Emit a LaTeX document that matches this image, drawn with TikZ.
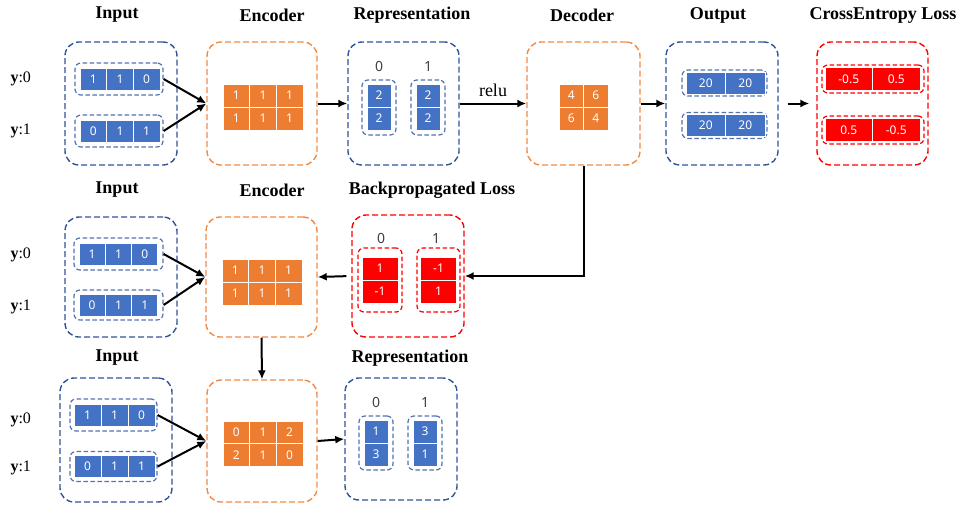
\documentclass[tikz,border=0pt]{standalone}
\usepackage{fontspec}
\setmainfont{Liberation Serif}
\newfontfamily\cellfont{Noto Sans}
\usetikzlibrary{arrows.meta}
\definecolor{cblue}{HTML}{4472C4}
\definecolor{corange}{HTML}{ED7D31}
\definecolor{cred}{HTML}{FF0000}
\definecolor{dblue}{HTML}{2F5597}
\definecolor{iblue}{HTML}{5273B0}
\definecolor{dorange}{HTML}{F08A45}
\definecolor{lgray}{HTML}{404040}
\newcommand{\mygrid}[7]{%
  \foreach \rw [count=\r] in {#7} {
    \foreach \v [count=\c] in \rw {
      \node[cell, fill=#6, minimum width=#4pt, minimum height=#5pt] (#1-\r-\c) at ({#2+(\c-0.5)*#4},{#3+(\r-0.5)*#5}) {\v};
    }}}
\begin{document}
\begin{tikzpicture}[x=1pt,y=-1pt,
  outer/.style={draw, dash pattern=on 6pt off 3pt, line width=1.4pt, rounded corners=14pt, inner sep=0pt},
  bluebox/.style={outer, draw=dblue},
  orangebox/.style={outer, draw=dorange},
  redbox/.style={outer, draw=cred},
  inner/.style={draw, dash pattern=on 4.5pt off 2.5pt, line width=1.2pt, rounded corners=6pt, inner sep=0pt},
  iblue/.style={inner, draw=iblue},
  ired/.style={inner, draw=cred},
  cell/.style={draw=white, line width=1pt, inner sep=0pt, text=white, font=\cellfont\fontsize{12}{12}\selectfont},
  title/.style={font=\bfseries\fontsize{18}{20}\selectfont},
  ylab/.style={anchor=west, font=\fontsize{16}{18}\selectfont},
  clab/.style={text=lgray, font=\cellfont\fontsize{14}{14}\selectfont},
  arr/.style={-{Latex[length=9pt,width=8pt]}, line width=2pt}
]
\useasboundingbox (0,0) rectangle (961,504);

% ---------------- top row ----------------
\node[title] (t1) at (117,15) {Input};
\node[title] (t2) at (272,15) {Encoder};
\node[title] (t3) at (412,15) {Representation};
\node[title] (t4) at (582,15) {Decoder};
\node[title] (t5) at (718,15) {Output};
\node[title] (t6) at (883,15) {CrossEntropy Loss};

\node[ylab] (ya0) at (7,79) {\textbf{y}:0};
\node[ylab] (ya1) at (7,131) {\textbf{y}:1};

\node[bluebox, minimum width=112pt, minimum height=123pt] (in1) at (121,103.5) {};
\node[iblue, minimum width=88pt, minimum height=32pt] (in1a) at (119,79) {};
\node[iblue, minimum width=88pt, minimum height=32pt] (in1b) at (119,131) {};
\mygrid{ia}{80}{68}{26.67}{22}{cblue}{{1,1,0}}
\mygrid{ib}{80}{120}{26.67}{22}{cblue}{{0,1,1}}

\node[orangebox, minimum width=110pt, minimum height=123pt] (enc1) at (262,103.5) {};
\mygrid{ea}{223}{84}{26.67}{23}{corange}{{1,1,1},{1,1,1}}

\node[bluebox, minimum width=111pt, minimum height=123pt] (rep1) at (403.5,103.5) {};
\node[clab] (r1l0) at (379,66) {0};
\node[clab] (r1l1) at (428,66) {1};
\node[iblue, minimum width=34pt, minimum height=55pt] (rep1a) at (379,107.5) {};
\node[iblue, minimum width=34pt, minimum height=55pt] (rep1b) at (428,107.5) {};
\mygrid{ra}{367}{84}{24}{23}{cblue}{{2},{2}}
\mygrid{rb}{416}{84}{24}{23}{cblue}{{2},{2}}

\node[orangebox, minimum width=113pt, minimum height=123pt] (dec) at (583.5,103.5) {};
\mygrid{da}{559}{84}{24.5}{23}{corange}{{4,6},{6,4}}

\node[bluebox, minimum width=112pt, minimum height=123pt] (out) at (722,103.5) {};
\node[iblue, minimum width=85pt, minimum height=26pt] (outa) at (724.5,83) {};
\node[iblue, minimum width=85pt, minimum height=26pt] (outb) at (724.5,125.5) {};
\mygrid{oa}{686}{72}{39.5}{22}{cblue}{{20,20}}
\mygrid{ob}{686}{114.5}{39.5}{22}{cblue}{{20,20}}

\node[redbox, minimum width=111pt, minimum height=123pt] (loss) at (872.5,103.5) {};
\node[ired, minimum width=102pt, minimum height=28pt] (lossa) at (873,79) {};
\node[ired, minimum width=102pt, minimum height=28pt] (lossb) at (873,130) {};
\mygrid{la}{825}{67.5}{47.5}{23}{cred}{{-0.5,0.5}}
\mygrid{lb}{825}{118.5}{47.5}{23}{cred}{{0.5,-0.5}}

\draw[arr] (in1a.east) -- (enc1.west);
\draw[arr] (in1b.east) -- (enc1.west);
\draw[arr] (enc1.east) -- (rep1.west);
\draw[arr] (rep1.east) -- node[above=2pt, font=\fontsize{18}{20}\selectfont] (relu) {relu} (dec.west);
\draw[arr] (dec.east) -- (out.west);
\draw[arr, shorten <=9pt, shorten >=7pt] (out.east) -- (loss.west);

% ---------------- middle row ----------------
\node[title] (m1) at (117,190) {Input};
\node[title] (m2) at (272,190) {Encoder};
\node[title] (m3) at (432,190) {Backpropagated Loss};

\node[ylab] (yb0) at (7,255) {\textbf{y}:0};
\node[ylab] (yb1) at (7,307) {\textbf{y}:1};

\node[bluebox, minimum width=112pt, minimum height=120pt] (in2) at (121,277) {};
\node[iblue, minimum width=89pt, minimum height=32pt] (in2a) at (118.5,254) {};
\node[iblue, minimum width=89pt, minimum height=30pt] (in2b) at (118.5,305) {};
\mygrid{ma}{79}{243}{26.33}{22}{cblue}{{1,1,0}}
\mygrid{mb}{79}{294}{26.33}{22}{cblue}{{0,1,1}}

\node[orangebox, minimum width=111pt, minimum height=120pt] (enc2) at (261.5,277) {};
\mygrid{eb}{222}{259}{26.67}{23}{corange}{{1,1,1},{1,1,1}}

\node[redbox, minimum width=112pt, minimum height=122pt] (bp) at (408,276) {};
\node[clab] (bpl0) at (381,238) {0};
\node[clab] (bpl1) at (436,238) {1};
\node[ired, minimum width=44pt, minimum height=64pt] (bpa) at (380,280) {};
\node[ired, minimum width=43pt, minimum height=64pt] (bpb) at (438.5,280) {};
\mygrid{ba}{362}{257}{36}{23}{cred}{{1},{-1}}
\mygrid{bb}{420.5}{257}{36}{23}{cred}{{-1},{1}}

\draw[arr] (dec.south) |- (bp.east);
\draw[arr, shorten <=5pt] (bp.west) -- (enc2.east);
\draw[arr] (in2a.east) -- (enc2.west);
\draw[arr] (in2b.east) -- (enc2.west);

% ---------------- bottom row ----------------
\node[title] (b1) at (117,358) {Input};
\node[title] (b2) at (410,358) {Representation};

\node[ylab] (yc0) at (7,420) {\textbf{y}:0};
\node[ylab] (yc1) at (7,468) {\textbf{y}:1};

\node[bluebox, minimum width=112pt, minimum height=124pt] (in3) at (116,440) {};
\node[iblue, minimum width=87pt, minimum height=32pt] (in3a) at (113.5,415) {};
\node[iblue, minimum width=87pt, minimum height=30pt] (in3b) at (113.5,466.5) {};
\mygrid{na}{74}{404}{27}{22}{cblue}{{1,1,0}}
\mygrid{nb}{74}{455.5}{27}{22}{cblue}{{0,1,1}}

\node[orangebox, minimum width=110pt, minimum height=122pt] (enc3) at (262,441) {};
\mygrid{ec}{223}{421}{26.67}{22.5}{corange}{{0,1,2},{2,1,0}}

\node[bluebox, minimum width=112pt, minimum height=122pt] (rep3) at (401,439) {};
\node[clab] (r3l0) at (376,402) {0};
\node[clab] (r3l1) at (425,402) {1};
\node[iblue, minimum width=34pt, minimum height=54pt] (rep3a) at (376,443) {};
\node[iblue, minimum width=34pt, minimum height=54pt] (rep3b) at (425,443) {};
\mygrid{rc}{364}{420}{24}{23}{cblue}{{1},{3}}
\mygrid{rd}{413}{420}{24}{23}{cblue}{{3},{1}}

\draw[arr] (enc2.south) -- (enc3.north);
\draw[arr] (in3a.east) -- (enc3.west);
\draw[arr] (in3b.east) -- (enc3.west);
\draw[arr] (enc3.east) -- (rep3.west);
\end{tikzpicture}
\end{document}
